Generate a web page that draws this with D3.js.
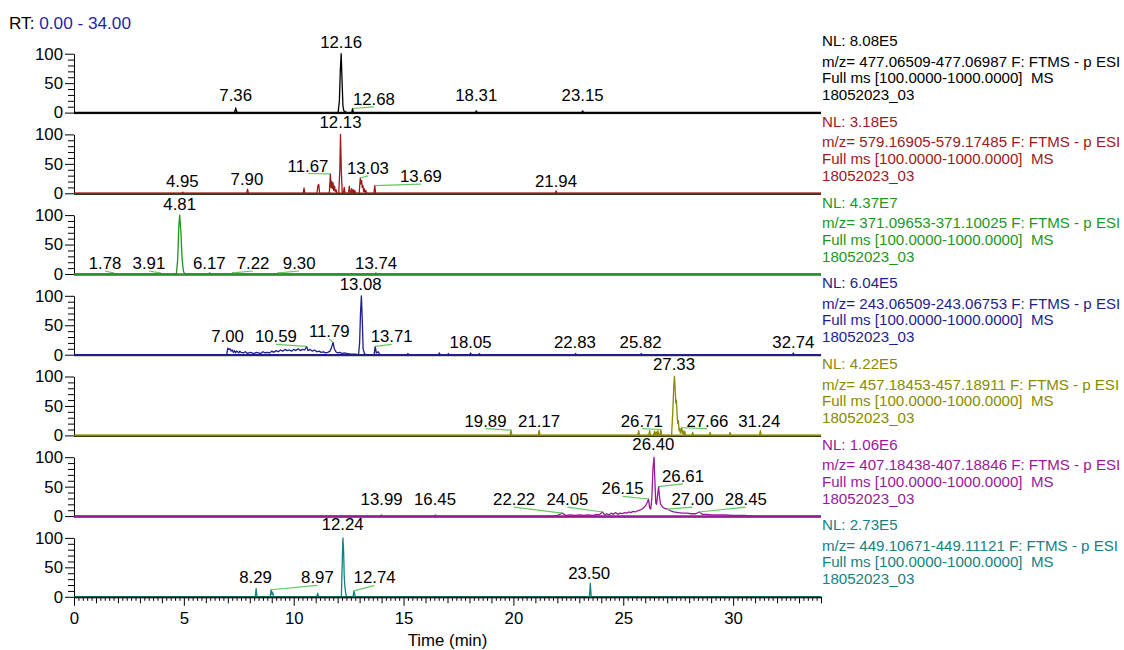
<!DOCTYPE html>
<html><head><meta charset="utf-8">
<script src="https://cdn.jsdelivr.net/npm/d3@7"></script>
<style>
body{margin:0;background:#fff;}
svg{display:block;font-family:"Liberation Sans",Arial,sans-serif;}
</style></head><body>
<svg id="c" width="1124" height="650"></svg>
<script>
// ---------------- DATA ----------------
const rtRange = [0, 34];
const xTicks = [0, 5, 10, 15, 20, 25, 30];
const yTicks = [0, 50, 100];
const nlValues = ["8.08E5", "3.18E5", "4.37E7", "6.04E5", "4.22E5", "1.06E6", "2.73E5"];
const mzRanges = ["477.06509-477.06987", "579.16905-579.17485", "371.09653-371.10025",
  "243.06509-243.06753", "457.18453-457.18911", "407.18438-407.18846", "449.10671-449.11121"];
const scanType = "F: FTMS - p ESI";
const scanFilter = "Full ms [100.0000-1000.0000]  MS";
const fileName = "18052023_03";

// traces: [retention time (min), relative abundance (%)]
const trace1 = [[0,0],[7.30,0],[7.33,3],[7.36,8],[7.40,2],[7.45,0],
  [12.02,0],[12.08,20],[12.12,70],[12.16,100],[12.20,55],[12.24,12],[12.28,3],[12.34,2],[12.40,0],
  [12.64,0],[12.68,7],[12.72,0],[18.27,0],[18.31,3],[18.35,0],[23.11,0],[23.15,3],[23.19,0],[34,0]];
const trace2 = [[0,0],[4.91,0],[4.95,2],[4.99,0],[7.86,0],[7.90,7],[7.94,0],
  [10.43,0],[10.47,9],[10.51,0],[11.06,0],[11.10,13],[11.14,15],[11.18,0],
  [11.62,0],[11.67,33],[11.70,10],[11.73,20],[11.76,8],[11.79,18],[11.82,5],[11.86,12],[11.89,3],[11.93,6],[11.97,0],
  [12.05,0],[12.10,40],[12.13,100],[12.17,35],[12.21,0],[12.26,0],[12.30,10],[12.34,0],
  [12.49,0],[12.53,12],[12.57,2],[12.61,0],[12.64,8],[12.67,0],[12.71,6],[12.74,0],[12.78,5],[12.82,0],
  [12.98,0],[13.03,26],[13.06,16],[13.09,22],[13.12,10],[13.15,13],[13.18,3],[13.21,8],[13.24,2],[13.28,5],[13.32,0],
  [13.65,0],[13.69,13],[13.73,0],[21.90,0],[21.94,4],[21.98,0],[34,0]];
const trace3 = [[0,0],[1.74,0],[1.78,2],[1.82,0],[3.87,0],[3.91,2],[3.95,0],
  [4.66,0],[4.72,25],[4.77,80],[4.81,100],[4.86,75],[4.92,25],[4.98,5],[5.04,0],
  [6.13,0],[6.17,2],[6.21,0],[7.18,0],[7.22,2],[7.26,0],[9.26,0],[9.30,2],[9.34,0],
  [13.70,0],[13.74,2],[13.78,0],[34,0]];
const trace4 = [[0,0],[6.95,0],[7.00,11],[7.05,9],[7.10,10],[7.15,6],[7.20,8],[7.25,4],[7.30,7],[7.35,3],
  [7.40,6],[7.45,5],[7.50,3],[7.55,6],[7.60,4],[7.70,3],[7.80,5],[7.90,2],[8.00,4],[8.10,3],[8.20,2],
  [8.30,4],[8.40,3],[8.50,2],[8.60,5],[8.70,3],[8.80,4],[8.90,3],[9.00,6],[9.10,4],[9.20,7],[9.30,5],
  [9.40,8],[9.50,6],[9.60,9],[9.70,7],[9.80,8],[9.90,6],[10.00,9],[10.10,7],[10.20,10],[10.30,7],
  [10.40,9],[10.50,8],[10.59,14],[10.65,7],[10.75,9],[10.85,6],[10.95,8],[11.05,5],[11.15,6],[11.25,4],
  [11.35,5],[11.45,3],[11.55,4],[11.65,6],[11.72,12],[11.79,21],[11.85,10],[11.92,5],[12.00,3],
  [12.10,4],[12.20,2],[12.30,3],[12.45,2],[12.60,1],[12.80,1],[12.95,0],[13.00,20],[13.04,70],
  [13.08,100],[13.12,60],[13.16,10],[13.22,2],[13.30,0],[13.66,0],[13.71,14],[13.76,3],[13.85,5],
  [13.92,0],[15.16,0],[15.20,2],[15.24,0],[16.59,0],[16.63,3],[16.67,0],[17.00,0],[17.04,2],[17.08,0],
  [18.01,0],[18.05,3],[18.09,0],[18.41,0],[18.45,2],[18.49,0],[22.79,0],[22.83,2],[22.87,0],
  [25.78,0],[25.82,2],[25.86,0],[32.70,0],[32.74,3],[32.78,0],[34,0]];
const trace5 = [[0,0],[19.85,0],[19.89,9],[19.93,0],[21.13,0],[21.17,9],[21.21,0],
  [25.66,0],[25.70,8],[25.74,0],[26.16,0],[26.20,8],[26.24,0],[26.38,0],[26.42,7],[26.46,0],
  [26.50,6],[26.54,0],[26.58,8],[26.62,0],[26.67,0],[26.71,10],[26.75,0],
  [27.20,0],[27.26,45],[27.30,85],[27.33,100],[27.36,80],[27.39,55],[27.42,60],[27.45,35],[27.48,20],
  [27.51,25],[27.54,8],[27.57,12],[27.60,4],[27.63,9],[27.66,13],[27.69,3],[27.72,8],[27.76,2],
  [27.80,7],[27.84,0],[28.12,0],[28.16,5],[28.20,0],[28.91,0],[28.95,5],[28.99,0],
  [29.82,0],[29.86,5],[29.90,0],[31.20,0],[31.24,8],[31.28,0],[34,0]];
const trace6 = [[0,0],[13.95,0],[13.99,2],[14.03,0],[16.41,0],[16.45,2],[16.49,0],
  [21.80,0],[22.00,1],[22.22,5],[22.40,1],[22.60,2],[22.80,1],[23.00,2],[23.20,1],[23.40,2],[23.60,1],
  [23.80,3],[23.90,2],[24.05,7],[24.15,2],[24.25,4],[24.35,2],[24.45,5],[24.55,3],[24.65,6],[24.75,3],
  [24.85,5],[24.95,4],[25.05,6],[25.15,5],[25.25,7],[25.35,6],[25.45,8],[25.55,7],[25.65,9],[25.75,10],
  [25.85,12],[25.95,15],[26.05,20],[26.10,24],[26.15,29],[26.20,14],[26.25,12],[26.30,30],[26.35,80],
  [26.40,100],[26.44,60],[26.48,22],[26.52,20],[26.56,35],[26.61,50],[26.65,32],[26.70,20],[26.78,16],
  [26.88,13],[27.00,12],[27.15,9],[27.30,7],[27.50,6],[27.70,5],[27.90,5],[28.10,4],[28.30,4],[28.45,7],
  [28.60,3],[28.80,3],[29.00,2],[29.30,2],[29.60,2],[30.00,1],[30.50,1],[31.00,0],[34,0]];
const trace7 = [[0,0],[8.25,0],[8.29,14],[8.33,0],[8.93,0],[8.97,12],[9.01,4],[9.04,8],[9.08,0],
  [11.05,0],[11.09,6],[11.13,0],[12.17,0],[12.21,60],[12.24,100],[12.27,79],[12.30,34],[12.33,17],
  [12.37,5],[12.42,0],[12.70,0],[12.74,10],[12.78,3],[12.82,0],[23.46,0],[23.50,23],[23.54,0],[34,0]];

// peak labels: [peak RT, peak abundance, label RT, label level (%)]
const peaks1 = [[7.36,8,7.36,20],[12.16,100,12.16,110],[12.68,7,13.65,13],[18.31,3,18.31,20],[23.15,3,23.15,20]];
const peaks2 = [[4.95,2,4.93,11.5],[7.90,7,7.87,14.5],[11.67,33,10.65,37],[12.13,100,12.13,111],
  [13.03,26,13.38,33],[13.69,13,15.79,19],[21.94,4,21.94,11.5]];
const peaks3 = [[1.78,2,1.41,8.5],[3.91,2,3.41,8.5],[4.81,100,4.81,108],[6.17,2,6.16,8.5],
  [7.22,2,8.15,8.5],[9.30,2,10.25,8.5],[13.74,2,13.75,8.5]];
const peaks4 = [[7.00,11,6.99,21],[10.59,14,9.19,21],[11.79,21,11.62,30],[13.08,100,13.05,110],
  [13.71,14,14.46,21],[18.05,3,18.05,11.5],[22.83,2,22.80,11.5],[25.82,2,25.79,11.5],[32.74,3,32.74,11.5]];
const peaks5 = [[19.89,9,18.73,15],[21.17,9,21.17,15],[26.71,10,25.84,15],[27.33,100,27.31,111],
  [27.66,13,28.83,15],[31.24,8,31.19,15]];
const peaks6 = [[13.99,2,14.00,18.6],[16.45,2,16.43,18.6],[22.22,5,20.03,18.6],[24.05,7,22.46,18.6],
  [26.15,29,24.97,37],[26.40,100,26.37,112],[26.61,50,27.72,58],[27.00,12,28.15,18.6],[28.45,7,30.58,18.6]];
const peaks7 = [[8.29,14,8.26,22.7],[8.97,12,11.08,22.7],[12.24,100,12.23,113],[12.74,10,13.68,22.7],[23.50,23,23.45,31]];

const traces = [trace1, trace2, trace3, trace4, trace5, trace6, trace7];
const peakLabels = [peaks1, peaks2, peaks3, peaks4, peaks5, peaks6, peaks7];
const colors = ["#000000", "#9c1a1a", "#1e961e", "#1e1e8c", "#8a8a00", "#981a98", "#148282"];

// ---------------- LAYOUT ----------------
const svg = d3.select("#c");
const left = 74, right = 821;
const panelTop0 = 53.7, panelStep = 80.7, panelH = 58.9;
const fs = 16.8;
const x = d3.scaleLinear().domain(rtRange).range([left, right]);

// header
const hdr = svg.append("text").attr("x", 9).attr("y", 29).attr("font-size", 17.2);
hdr.append("tspan").attr("fill", "#000").text("RT: ");
hdr.append("tspan").attr("fill", "#1f1fa6").text(rtRange[0].toFixed(2) + " - " + rtRange[1].toFixed(2));

traces.forEach((tr, i) => {
  const top = panelTop0 + i * panelStep;
  const y = d3.scaleLinear().domain([0, 100]).range([top + panelH, top]);
  const g = svg.append("g");
  const col = colors[i];

  // baseline (black axis line + trace-coloured zero level)
  g.append("line").attr("x1", left).attr("x2", right).attr("y1", y(0) + 1).attr("y2", y(0) + 1)
    .attr("stroke", "#000").attr("stroke-width", 1);
  g.append("line").attr("x1", left).attr("x2", right).attr("y1", y(0)).attr("y2", y(0))
    .attr("stroke", col).attr("stroke-width", 1.6);

  // y axis
  const ya = g.append("g").attr("transform", `translate(${left},0)`)
    .call(d3.axisLeft(y).tickValues(yTicks).tickSize(9).tickSizeOuter(0).tickPadding(2));
  ya.selectAll("text").attr("font-size", fs).attr("font-family", "Liberation Sans, Arial, sans-serif").attr("fill", "#000");
  ya.select(".domain").attr("stroke", "#000");
  const ym = g.append("g").attr("transform", `translate(${left},0)`)
    .call(d3.axisLeft(y).tickValues(d3.range(10, 100, 10).filter(v => v !== 50)).tickSize(6).tickFormat(""));
  ym.select(".domain").remove();

  // trace
  g.append("path").datum(tr)
    .attr("d", d3.line().x(d => x(d[0])).y(d => y(d[1])))
    .attr("fill", "none").attr("stroke", col).attr("stroke-width", 1.3).attr("stroke-linejoin", "round");

  // peak labels
  peakLabels[i].forEach(p => {
    const [prt, pv, lrt, lv] = p;
    if (Math.abs(lrt - prt) > 0.1) {
      g.append("line").attr("x1", x(prt)).attr("y1", y(pv)).attr("x2", x(lrt)).attr("y2", y(lv) + 2)
        .attr("stroke", "#62c862").attr("stroke-width", 1.2);
    }
    g.append("text").attr("x", x(lrt)).attr("y", y(lv)).attr("text-anchor", "middle")
      .attr("font-size", fs).attr("fill", "#000").text(prt.toFixed(2));
  });

  // right-side info
  const info = [
    ["NL: " + nlValues[i], top - 7.5],
    ["m/z= " + mzRanges[i] + " " + scanType, top + 13],
    [scanFilter, top + 29.5],
    [fileName, top + 46.5]
  ];
  info.forEach(([t, yy]) => {
    g.append("text").attr("x", 822).attr("y", yy).attr("font-size", 15.1).attr("fill", col)
      .style("white-space", "pre").text(t);
  });

  // x axis only for bottom panel
  if (i === traces.length - 1) {
    const xa = g.append("g").attr("transform", `translate(0,${y(0)})`)
      .call(d3.axisBottom(x).tickValues(xTicks).tickSize(9).tickSizeOuter(0).tickPadding(6));
    xa.selectAll("text").attr("font-size", fs).attr("font-family", "Liberation Sans, Arial, sans-serif").attr("fill", "#000");
    const xi = g.append("g").attr("transform", `translate(0,${y(0)})`)
      .call(d3.axisBottom(x).tickValues(d3.range(1, 35).filter(v => v % 5 !== 0)).tickSize(6.5).tickFormat(""));
    xi.select(".domain").remove();
    const xm = g.append("g").attr("transform", `translate(0,${y(0)})`)
      .call(d3.axisBottom(x).tickValues(d3.range(0, 170).map(k => k / 5).filter(v => Math.abs(v - Math.round(v)) > 0.01)).tickSize(4).tickFormat(""));
    xm.select(".domain").remove();
    svg.append("text").attr("x", (left + right) / 2).attr("y", 646).attr("text-anchor", "middle")
      .attr("font-size", fs).attr("fill", "#000").text("Time (min)");
  }
});
</script>
</body></html>
